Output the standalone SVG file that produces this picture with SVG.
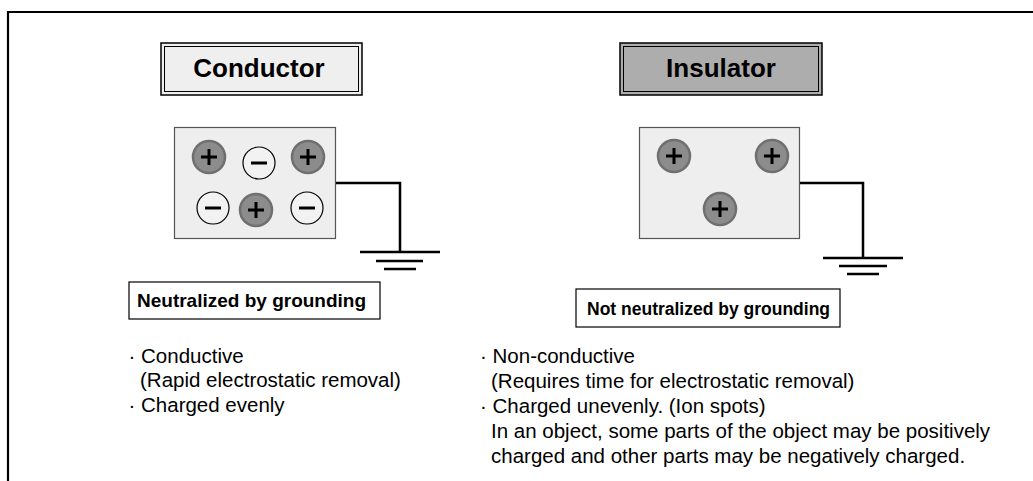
<svg xmlns="http://www.w3.org/2000/svg" width="1033" height="481" viewBox="0 0 1033 481">
<style>
.frame{fill:none;stroke:#000;stroke-width:2.2}
.title{stroke:#000;stroke-width:1.5}
.body{fill:#eeeeee;stroke:#555;stroke-width:1.2}
.pos{fill:#8c8c8c;stroke:#6f6f6f;stroke-width:2.5}
.neg{fill:#f2f2f2;stroke:#000;stroke-width:1.2}
.sign{stroke:#000;stroke-width:3;fill:none}
.wire{fill:none;stroke:#000;stroke-width:2.5}
.lbl{fill:#fff;stroke:#000;stroke-width:1.2}
.tt{font-family:"Liberation Sans",Arial,sans-serif;font-weight:bold;font-size:26px;fill:#000;text-anchor:middle}
.lt{font-family:"Liberation Sans",Arial,sans-serif;font-weight:bold;fill:#000}
.bt{font-family:"Liberation Sans",Arial,sans-serif;font-size:20.5px;fill:#000}
</style>
<defs>
<g id="plus"><circle r="16" class="pos"/><path class="sign" d="M-8,0H8M0,-8V8"/></g>
<g id="minus"><circle r="16" class="neg"/><path class="sign" d="M-8,0H8"/></g>
</defs>
<rect width="1033" height="481" fill="#fff"/>
<path class="frame" d="M8,481V12H1033"/>

<g id="conductor-title">
<rect x="161" y="43" width="201" height="52" fill="#efefef" class="title"/>
<rect x="164.5" y="46.5" width="194" height="45" fill="none" stroke="#000" stroke-width="1"/>
<text class="tt" x="259" y="77">Conductor</text>
</g>
<g id="insulator-title">
<rect x="620" y="43" width="202" height="52" fill="#adadad" class="title"/>
<rect x="623.5" y="46.5" width="195" height="45" fill="none" stroke="#000" stroke-width="1"/>
<text class="tt" x="721" y="77">Insulator</text>
</g>

<g id="conductor-body">
<rect x="174.5" y="127.5" width="161" height="111" class="body"/>
<use href="#plus" x="209" y="157"/>
<use href="#minus" x="259" y="163"/>
<use href="#plus" x="308" y="157"/>
<use href="#minus" x="213" y="208"/>
<use href="#plus" x="256" y="210"/>
<use href="#minus" x="307" y="208"/>
</g>
<g id="insulator-body">
<rect x="639.5" y="127.5" width="160" height="111" class="body"/>
<use href="#plus" x="674" y="156"/>
<use href="#plus" x="772" y="156"/>
<use href="#plus" x="720" y="209"/>
</g>

<g id="connectors">
<path class="wire" d="M336,183H400V252"/>
<path class="wire" d="M360,252H440M376,261H423M384,269H416"/>
<path class="wire" d="M800,183H863V258"/>
<path class="wire" d="M823,258H903M839,266H887M847,274H879"/>
</g>

<g id="conductor-label">
<rect x="129" y="282" width="251" height="37" class="lbl"/>
<text class="lt" x="137" y="307" font-size="19">Neutralized by grounding</text>
</g>
<g id="insulator-label">
<rect x="576" y="289" width="264" height="38" class="lbl"/>
<text class="lt" x="587" y="315" font-size="17.5">Not neutralized by grounding</text>
</g>

<g id="conductor-notes" class="bt">
<text x="128.5" y="363">· Conductive</text>
<text x="140" y="387">(Rapid electrostatic removal)</text>
<text x="128.5" y="412">· Charged evenly</text>
</g>
<g id="insulator-notes" class="bt">
<text x="480" y="363">· Non-conductive</text>
<text x="491" y="388">(Requires time for electrostatic removal)</text>
<text x="480" y="413">· Charged unevenly. (Ion spots)</text>
<text x="491" y="438">In an object, some parts of the object may be positively</text>
<text x="491" y="463">charged and other parts may be negatively charged.</text>
</g>
</svg>
